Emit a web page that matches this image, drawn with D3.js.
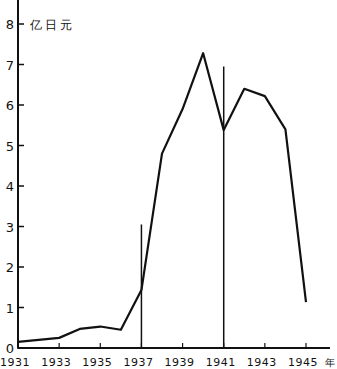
<!DOCTYPE html>
<html>
<head>
<meta charset="utf-8">
<script src="https://cdn.jsdelivr.net/npm/d3@7"></script>
<style>
  body { margin: 0; background: #fff; }
  text { font-family: "DejaVu Sans", sans-serif; fill: #111; }
</style>
</head>
<body>
<div id="chart"></div>
<script>
// values (亿日元)
var years  = [1931, 1933, 1934, 1935, 1936, 1937, 1938, 1939, 1940, 1941, 1942, 1943, 1944, 1945];
var values = [0.15, 0.25, 0.47, 0.53, 0.45, 1.43, 4.8, 5.9, 7.28, 5.38, 6.4, 6.22, 5.4, 1.13];
var yTicks = [0, 1, 2, 3, 4, 5, 6, 7, 8];
var xTicks = [1931, 1933, 1935, 1937, 1939, 1941, 1943, 1945];
var markYears  = [1937, 1941];   // vertical marker lines
var markTops   = [3.05, 6.95];

var width = 337, height = 369;

var x = d3.scaleLinear().domain([1931, 1945]).range([18, 306]);
var y = d3.scaleLinear().domain([0, 8]).range([348, 24]);

var svg = d3.select("#chart")
  .append("svg")
    .attr("width", width)
    .attr("height", height);

// axes
svg.append("line")
  .attr("x1", x(1931)).attr("x2", x(1931))
  .attr("y1", 0).attr("y2", y(0))
  .attr("stroke", "#111").attr("stroke-width", 2);

svg.append("line")
  .attr("x1", x(1931)).attr("x2", 330)
  .attr("y1", y(0)).attr("y2", y(0))
  .attr("stroke", "#111").attr("stroke-width", 2);

// y ticks + labels
var yt = svg.selectAll(".yt").data(yTicks).enter().append("g");
yt.append("line")
  .attr("x1", x(1931) - 1).attr("x2", x(1931) + 6)
  .attr("y1", d => y(d)).attr("y2", d => y(d))
  .attr("stroke", "#111").attr("stroke-width", 1.5);
yt.append("text")
  .attr("x", 10).attr("y", d => y(d) + 5)
  .attr("text-anchor", "middle")
  .attr("font-size", 13)
  .text(d => d);

// x ticks + labels
var xt = svg.selectAll(".xt").data(xTicks).enter().append("g");
xt.append("line")
  .attr("x1", d => x(d)).attr("x2", d => x(d))
  .attr("y1", y(0)).attr("y2", y(0) - 5)
  .attr("stroke", "#111").attr("stroke-width", 1.2);
xt.append("text")
  .attr("x", d => x(d) - 3).attr("y", 366)
  .attr("text-anchor", "middle")
  .attr("font-size", 11)
  .attr("letter-spacing", 0.5)
  .text(d => d);

svg.append("text")
  .attr("x", 325).attr("y", 366)
  .attr("font-size", 10)
  .attr("font-family", "Noto Sans CJK SC")
  .text("年");

svg.append("text")
  .attr("x", 30).attr("y", y(8) + 5)
  .attr("font-size", 12)
  .attr("letter-spacing", 3)
  .attr("font-family", "Noto Sans CJK SC")
  .text("亿日元");

// marker lines
svg.selectAll(".mark").data(markYears).enter().append("line")
  .attr("x1", d => x(d)).attr("x2", d => x(d))
  .attr("y1", (d, i) => y(markTops[i])).attr("y2", y(0))
  .attr("stroke", "#111").attr("stroke-width", 1.5);

// the series
var line = d3.line()
  .x((d, i) => x(years[i]))
  .y(d => y(d));

svg.append("path")
  .attr("d", line(values))
  .attr("fill", "none")
  .attr("stroke", "#111")
  .attr("stroke-width", 2.2)
  .attr("stroke-linejoin", "round");
</script>
</body>
</html>
